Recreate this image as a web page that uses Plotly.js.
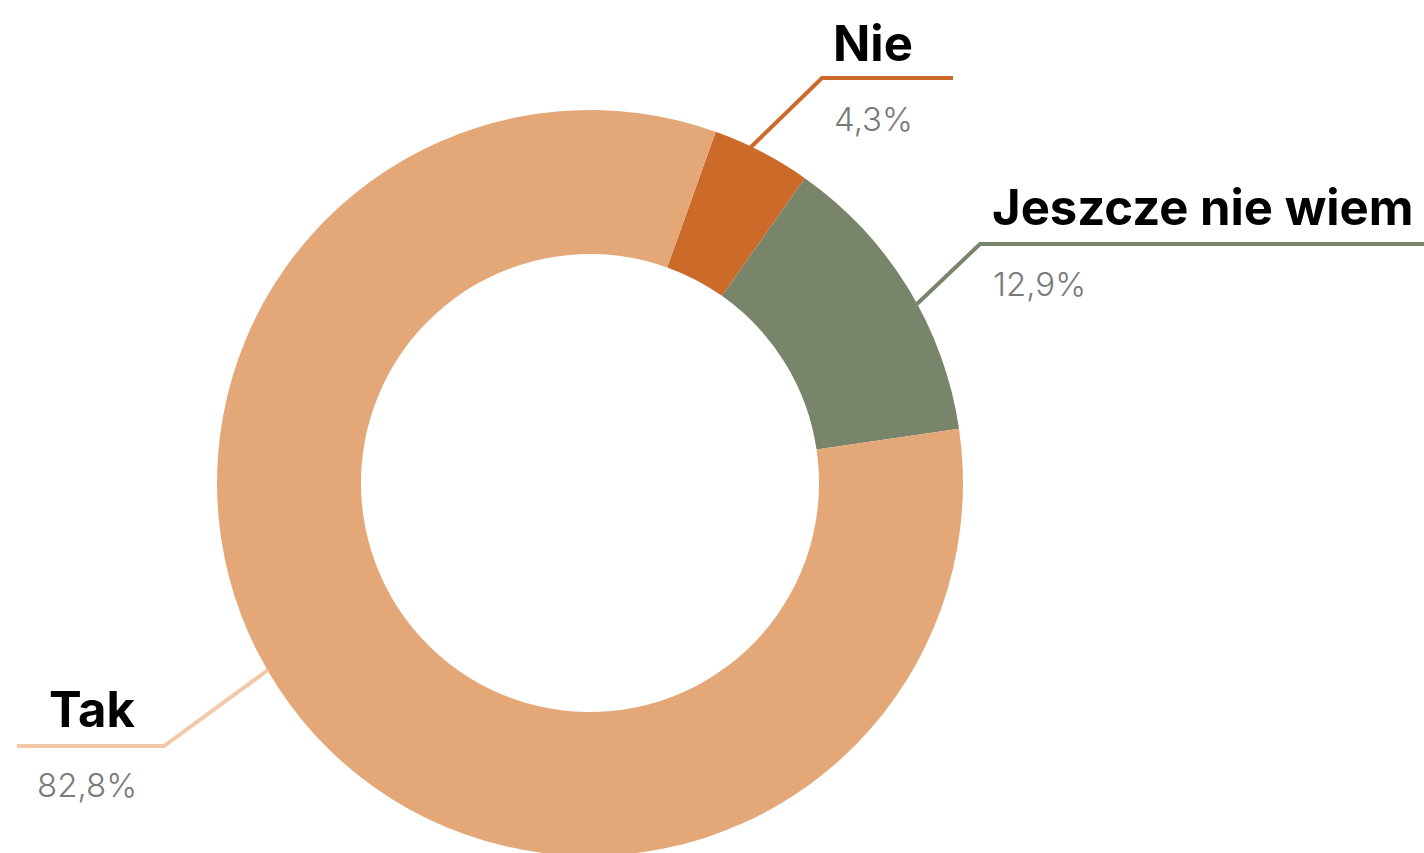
<!DOCTYPE html>
<html><head><meta charset="utf-8">
<script src="https://cdn.plot.ly/plotly-3.0.1.min.js"></script>
<style>html,body{margin:0;padding:0;overflow:hidden;background:#fff}</style>
</head><body><div id="chart"></div>
<script>
const categories = ["Nie", "Jeszcze nie wiem", "Tak"];
const values = [4.3, 12.9, 82.8];
const valueLabels = ["4,3%", "12,9%", "82,8%"];
const colors = ["#CC6A29", "#78856A", "#E4A878"];
const lineColors = ["#CC6A29", "#78856A", "#F3C8A8"];

const W = 1424, H = 860;
const px = x => x / W, py = y => 1 - y / H;

const trace = {
  type: "pie", labels: categories, values: values, sort: false,
  direction: "clockwise", rotation: 19.7, hole: 0.614,
  marker: {colors: colors, line: {width: 0}},
  textinfo: "none", hoverinfo: "label+percent", showlegend: false,
  domain: {x: [217 / W, 963 / W], y: [1 - 856 / H, 1 - 110 / H]}
};

const labelPos = [
  {x: 873, y: 43, ax: "center", px: 873, py: 119, pax: "center"},
  {x: 990, y: 207, ax: "left", px: 991, py: 284, pax: "left"},
  {x: 92, y: 709, ax: "center", px: 87, py: 785, pax: "center"}
];
const leaders = [
  [[750,148],[822,78],[953,78]],
  [[917,304],[980,244],[1424,244]],
  [[268,670],[164,746],[17,746]]
];

const annotations = [], shapes = [];
categories.forEach((c, i) => {
  const p = labelPos[i];
  annotations.push({text: "<b>" + c + "</b>", xref: "paper", yref: "paper", x: px(p.x), y: py(p.y),
    xanchor: p.ax, yanchor: "middle", showarrow: false,
    font: {family: "Inter, 'Open Sans', sans-serif", size: 49, color: "#000", weight: 900}});
  annotations.push({text: valueLabels[i], xref: "paper", yref: "paper", x: px(p.px), y: py(p.py),
    xanchor: p.pax, yanchor: "middle", showarrow: false,
    font: {family: "Inter, 'Open Sans', sans-serif", size: 33, color: "#7a7a7a", weight: 300}});
  const pts = leaders[i];
  shapes.push({type: "path", xref: "paper", yref: "paper",
    path: "M" + pts.map(q => px(q[0]) + "," + py(q[1])).join(" L"),
    line: {color: lineColors[i], width: 4}});
});

Plotly.newPlot("chart", [trace], {
  width: W, height: H, margin: {l: 0, r: 0, t: 0, b: 0},
  paper_bgcolor: "#fff", plot_bgcolor: "#fff",
  annotations: annotations, shapes: shapes
}, {displayModeBar: false, staticPlot: true});
</script></body></html>
